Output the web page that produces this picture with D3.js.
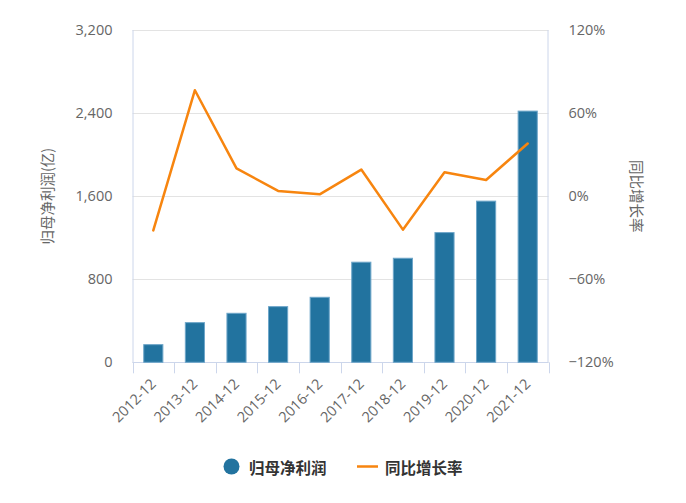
<!DOCTYPE html>
<html>
<head>
<meta charset="utf-8">
<script src="https://cdn.jsdelivr.net/npm/d3@7/dist/d3.min.js"></script>
<style>
  html, body { margin: 0; padding: 0; background: #fff; }
  svg { display: block; }
  text { font-family: "Open Sans", "Noto Sans CJK SC", sans-serif; }
  .cjk { font-family: "Noto Sans CJK SC", "Open Sans", sans-serif; }
</style>
</head>
<body>
<svg id="chart" width="686" height="503"></svg>
<script>
// ---- data ----
const categories = ["2012-12","2013-12","2014-12","2015-12","2016-12","2017-12","2018-12","2019-12","2020-12","2021-12"];
const netProfit = [170, 382, 472, 536, 626, 964, 1002, 1249, 1552, 2419];   // 归母净利润 (亿)
const yoyGrowth = [-24.7, 76.5, 20.1, 3.8, 1.3, 19.2, -24.2, 17.2, 11.7, 38.0]; // 同比增长率 (%)
const leftTicks = [0, 800, 1600, 2400, 3200];
const rightTicks = [-120, -60, 0, 60, 120];
const seriesNames = ["归母净利润", "同比增长率"];
const axisTitles = ["归母净利润(亿)", "同比增长率"];

// ---- layout ----
const W = 686, H = 503;
const plot = { left: 132.5, right: 548.5, top: 30, bottom: 362.3 };
const barColor = "#22739f";
const lineColor = "#f7850f";
const axisColor = "#ccd6eb";
const gridColor = "#e3e3e3";
const labelColor = "#666666";

const svg = d3.select("#chart");

const x = d3.scaleBand().domain(categories).range([plot.left, plot.right]).padding(0);
const yL = d3.scaleLinear().domain([0, 3200]).range([plot.bottom, plot.top]);
const yR = d3.scaleLinear().domain([-120, 120]).range([plot.bottom, plot.top]);

// grid lines
svg.append("g").selectAll("line").data(leftTicks).join("line")
  .attr("x1", plot.left).attr("x2", plot.right)
  .attr("y1", d => Math.round(yL(d)) + 0.5).attr("y2", d => Math.round(yL(d)) + 0.5)
  .attr("stroke", gridColor).attr("stroke-width", 1);

// left axis
const leftAxis = d3.axisLeft(yL).tickValues(leftTicks).tickSize(0).tickPadding(20)
  .tickFormat(d3.format(","));
const gL = svg.append("g").attr("transform", `translate(${plot.left},0)`).call(leftAxis);
gL.select(".domain").attr("stroke", axisColor).attr("d", `M0.5,${plot.top}V${plot.bottom}`);
gL.selectAll("text").attr("fill", labelColor).style("font-size", "14.5px");

// right axis
const rightAxis = d3.axisRight(yR).tickValues(rightTicks).tickSize(0).tickPadding(20)
  .tickFormat(d => d3.format("")(d) + "%");
const gR = svg.append("g").attr("transform", `translate(${plot.right},0)`).call(rightAxis);
gR.select(".domain").attr("stroke", axisColor).attr("d", `M-0.5,${plot.top}V${plot.bottom}`);
gR.selectAll("text").attr("fill", labelColor).style("font-size", "14.5px");

// bottom axis (ticks at category boundaries)
const gB = svg.append("g");
gB.append("line").attr("x1", plot.left).attr("x2", plot.right)
  .attr("y1", Math.round(plot.bottom) + 0.5).attr("y2", Math.round(plot.bottom) + 0.5)
  .attr("stroke", axisColor);
const bounds = categories.map(c => x(c)).concat([x(categories[categories.length - 1]) + x.bandwidth()]);
gB.selectAll("line.tick").data(bounds).join("line").attr("class", "tick")
  .attr("x1", d => Math.round(d) + 0.5).attr("x2", d => Math.round(d) + 0.5)
  .attr("y1", plot.bottom).attr("y2", plot.bottom + 11)
  .attr("stroke", axisColor);
gB.selectAll("text").data(categories).join("text")
  .attr("transform", d => `translate(${x(d) + x.bandwidth() / 2},${plot.bottom + 19}) rotate(-45)`)
  .attr("text-anchor", "end").attr("dy", "0.35em")
  .attr("fill", labelColor).style("font-size", "14.5px")
  .text(d => d);

// bars
const bw = x.bandwidth() * 0.46;
svg.append("g").selectAll("rect").data(netProfit).join("rect")
  .attr("x", (d, i) => x(categories[i]) + x.bandwidth() / 2 - bw / 2)
  .attr("y", d => yL(d))
  .attr("width", bw)
  .attr("height", d => yL(0) - yL(d))
  .attr("fill", barColor)
  .attr("stroke", "#6ea6c9").attr("stroke-width", 1);

// line
const line = d3.line()
  .x((d, i) => x(categories[i]) + x.bandwidth() / 2)
  .y(d => yR(d));
svg.append("path").datum(yoyGrowth)
  .attr("d", line)
  .attr("fill", "none")
  .attr("stroke", lineColor).attr("stroke-width", 2.5)
  .attr("stroke-linejoin", "round").attr("stroke-linecap", "round");

// axis titles
const midY = (plot.top + plot.bottom) / 2;
svg.append("text").attr("class", "cjk")
  .attr("transform", `translate(46,${midY}) rotate(-90)`)
  .attr("text-anchor", "middle").attr("dominant-baseline", "central")
  .attr("fill", labelColor).style("font-size", "14.5px")
  .text(axisTitles[0]);
svg.append("text").attr("class", "cjk")
  .attr("transform", `translate(637.5,${midY}) rotate(90)`)
  .attr("text-anchor", "middle").attr("dominant-baseline", "central")
  .attr("fill", labelColor).style("font-size", "14.5px")
  .text(axisTitles[1]);

// legend
const lg = svg.append("g");
lg.append("circle").attr("cx", 231.5).attr("cy", 466.5).attr("r", 8).attr("fill", barColor);
lg.append("text").attr("class", "cjk").attr("x", 249).attr("y", 466.5)
  .attr("dominant-baseline", "central").attr("fill", "#333")
  .style("font-size", "15.5px").style("font-weight", "bold").text(seriesNames[0]);
lg.append("line").attr("x1", 357).attr("x2", 378).attr("y1", 466.5).attr("y2", 466.5)
  .attr("stroke", lineColor).attr("stroke-width", 2.5);
lg.append("text").attr("class", "cjk").attr("x", 385).attr("y", 466.5)
  .attr("dominant-baseline", "central").attr("fill", "#333")
  .style("font-size", "15.5px").style("font-weight", "bold").text(seriesNames[1]);
</script>
</body>
</html>
